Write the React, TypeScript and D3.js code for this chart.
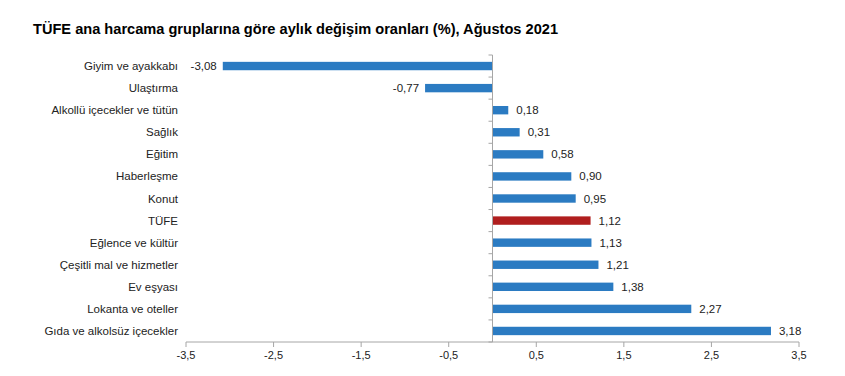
import React from "react";
import * as d3 from "d3";

const categories = [
  "Giyim ve ayakkabı",
  "Ulaştırma",
  "Alkollü içecekler ve tütün",
  "Sağlık",
  "Eğitim",
  "Haberleşme",
  "Konut",
  "TÜFE",
  "Eğlence ve kültür",
  "Çeşitli mal ve hizmetler",
  "Ev eşyası",
  "Lokanta ve oteller",
  "Gıda ve alkolsüz içecekler",
];
const values = [-3.08, -0.77, 0.18, 0.31, 0.58, 0.9, 0.95, 1.12, 1.13, 1.21, 1.38, 2.27, 3.18];
const xTicks = [-3.5, -2.5, -1.5, -0.5, 0.5, 1.5, 2.5, 3.5];
const title = "TÜFE ana harcama gruplarına göre aylık değişim oranları (%), Ağustos 2021";
const highlight = "TÜFE";

const W = 845;
const H = 376;
const FONT = "'Liberation Sans', Arial, sans-serif";
const fmt = (v: number) => v.toFixed(2).replace(".", ",");
const fmtTick = (v: number) => v.toFixed(1).replace(".", ",");

export default function App() {
  const x = d3.scaleLinear().domain([-3.5, 3.5]).range([186, 799]);
  const y = d3.scaleBand<string>().domain(categories).range([55, 342]).paddingInner(0.62).paddingOuter(0.31);
  const step = y.step();
  const x0 = x(0);
  const axisY = 342;
  const blue = "#2b7bc2";
  const red = "#b01e1e";
  const grey = "#a6a6a6";

  return (
    <svg width={W} height={H} style={{ position: "absolute", left: 0, top: 0, background: "#fff" }}>
      <text x={33} y={34} fontFamily={FONT} fontWeight="bold" fontSize={14.6} fill="#000">
        {title}
      </text>
      {categories.map((c, i) => {
        const v = values[i];
        const yy = y(c)!;
        const bx = Math.min(x(v), x0);
        const bw = Math.abs(x(v) - x0);
        const cy = yy + y.bandwidth() / 2;
        return (
          <g key={c}>
            <rect x={bx} y={yy} width={bw} height={y.bandwidth()} fill={c === highlight ? red : blue} />
            <text
              x={178}
              y={cy}
              dy="0.35em"
              textAnchor="end"
              fontFamily={FONT}
              fontSize={11.5}
              fill="#222"
            >
              {c}
            </text>
            <text
              x={v < 0 ? x(v) - 6 : x(v) + 8}
              y={cy}
              dy="0.35em"
              textAnchor={v < 0 ? "end" : "start"}
              fontFamily={FONT}
              fontSize={11.5}
              fill="#222"
            >
              {fmt(v)}
            </text>
          </g>
        );
      })}
      {/* vertical axis */}
      <line x1={x0} x2={x0} y1={55} y2={axisY} stroke={grey} strokeWidth={1} />
      {d3.range(categories.length + 1).map((i) => (
        <line key={"yt" + i} x1={x0 - 4} x2={x0} y1={55 + i * step} y2={55 + i * step} stroke={grey} />
      ))}
      {/* horizontal axis */}
      <line x1={x(-3.5)} x2={x(3.5)} y1={axisY} y2={axisY} stroke={grey} />
      {xTicks.map((t) => (
        <g key={"xt" + t}>
          <line x1={x(t)} x2={x(t)} y1={axisY} y2={axisY + 5} stroke={grey} />
          <text x={x(t)} y={axisY + 17} textAnchor="middle" fontFamily={FONT} fontSize={11} fill="#222">
            {fmtTick(t)}
          </text>
        </g>
      ))}
    </svg>
  );
}
